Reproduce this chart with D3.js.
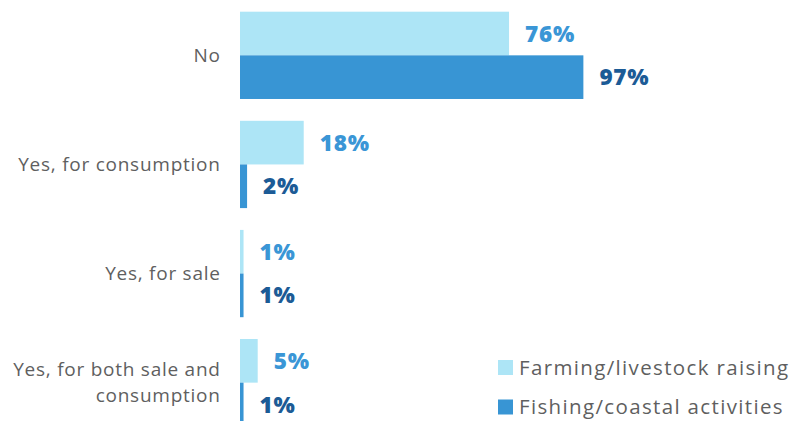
<!DOCTYPE html>
<html>
<head>
<meta charset="utf-8">
<script src="https://cdn.jsdelivr.net/npm/d3@7"></script>
<style>
  html, body { margin: 0; padding: 0; background: #ffffff; }
  svg { display: block; }
</style>
</head>
<body>
<svg id="chart" width="794" height="421"></svg>
<script>
// Answers per category, in percent
const categories = ["No", "Yes, for consumption", "Yes, for sale", "Yes, for both sale and consumption"];
const categoryLines = [["No"], ["Yes, for consumption"], ["Yes, for sale"], ["Yes, for both sale and", "consumption"]];
const seriesNames = ["Farming/livestock raising", "Fishing/coastal activities"];
const farming = [76, 18, 1, 5];
const fishing = [97, 2, 1, 1];

const barColors = ["#ade5f6", "#3895d4"];
const labelColors = ["#3a96d6", "#1c5b96"];
const textGray = "#5f5f5f";

const svg = d3.select("#chart");
const values = [farming, fishing];

const x = d3.scaleLinear().domain([0, 100]).range([240, 594]);
const y = d3.scaleBand().domain(categories).range([11.7, 426.3]).paddingInner(0.2).paddingOuter(0);
const ySub = d3.scaleBand().domain(seriesNames).range([0, y.bandwidth()]).padding(0);

const rows = categories.map((c, i) => ({ cat: c, lines: categoryLines[i], vals: values.map(v => v[i]) }));

const g = svg.append("g");

const groups = g.selectAll("g.cat").data(rows).join("g")
  .attr("class", "cat")
  .attr("transform", d => `translate(0,${y(d.cat)})`);

// bars
groups.selectAll("rect").data(d => d.vals.map((v, s) => ({ v, s }))).join("rect")
  .attr("x", x(0))
  .attr("y", d => ySub(seriesNames[d.s]))
  .attr("width", d => x(d.v) - x(0))
  .attr("height", ySub.bandwidth())
  .attr("fill", d => barColors[d.s]);

// value labels
groups.selectAll("text.val").data(d => d.vals.map((v, s) => ({ v, s }))).join("text")
  .attr("class", "val")
  .attr("x", d => x(d.v) + 16)
  .attr("y", d => ySub(seriesNames[d.s]) + ySub.bandwidth() / 2)
  .attr("dy", "0.36em")
  .attr("font-family", "'Open Sans', sans-serif")
  .attr("font-weight", 800)
  .attr("font-size", 22.5)
  .attr("letter-spacing", 0.8)
  .attr("fill", d => labelColors[d.s])
  .text(d => d.v + "%");

// category labels
const catText = groups.append("text")
  .attr("text-anchor", "end")
  .attr("font-family", "'Open Sans', sans-serif")
  .attr("font-size", 19)
  .attr("letter-spacing", 0.75)
  .attr("fill", textGray);
catText.each(function(d) {
  const n = d.lines.length;
  const lh = 26;
  const t = d3.select(this);
  d.lines.forEach((line, k) => {
    t.append("tspan")
      .attr("x", 220.7)
      .attr("y", y.bandwidth() / 2 + (k - (n - 1) / 2) * lh)
      .attr("dy", "0.36em")
      .text(line);
  });
});

// legend
const legend = svg.append("g").attr("transform", "translate(498,360)");
const li = legend.selectAll("g").data(seriesNames).join("g")
  .attr("transform", (d, i) => `translate(0,${i * 39.5})`);
li.append("rect").attr("width", 15).attr("height", 15).attr("fill", (d, i) => barColors[i]);
li.append("text")
  .attr("x", 21)
  .attr("y", 7.5)
  .attr("dy", "0.36em")
  .attr("font-family", "'Open Sans', sans-serif")
  .attr("font-size", 20.5)
  .attr("letter-spacing", 1.35)
  .attr("fill", textGray)
  .text(d => d);
</script>
</body>
</html>
